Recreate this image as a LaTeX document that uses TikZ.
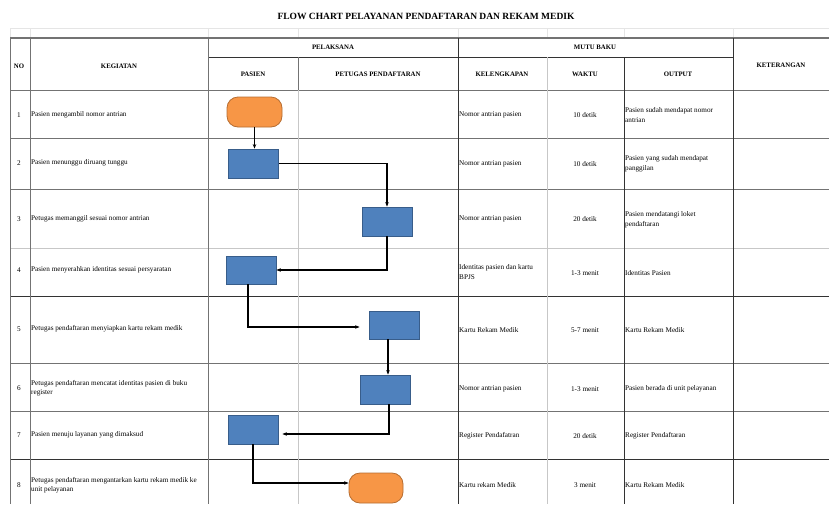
\documentclass[tikz,border=0pt]{standalone}
\usepackage{fontspec}
\setmainfont{Liberation Serif}
\usetikzlibrary{arrows.meta}
\definecolor{boxblue}{HTML}{4F81BD}
\definecolor{boxblueline}{HTML}{385D8A}
\definecolor{termorange}{HTML}{F79646}
\definecolor{termline}{HTML}{B66D31}
\tikzset{
 procbox/.style={draw=boxblueline, fill=boxblue, line width=0.8pt, minimum width=50pt, minimum height=29pt, inner sep=0pt},
 termbox/.style={draw=termline, fill=termorange, line width=0.8pt, rounded corners=11pt, minimum width=55pt, minimum height=30pt, inner sep=0pt},
 flow/.style={draw=black, line width=1.1pt, -{Stealth[length=4.5pt,width=3.5pt]}},
 gridmid/.style={draw=black!55, line width=0.8pt},
 gridlight/.style={draw=black!22, line width=0.8pt},
 griddark/.style={draw=black!80, line width=0.9pt},
 gridfaint/.style={draw=black!10, line width=0.6pt},
 body/.style={font=\fontsize{7.2}{9.5}\selectfont, inner sep=0pt, align=left},
 head/.style={font=\bfseries\fontsize{6.8}{8}\selectfont, inner sep=0pt},
}
\begin{document}
\begin{tikzpicture}[x=1pt,y=-1pt]
\useasboundingbox (0,0) rectangle (829,504);
\fill[white] (0,0) rectangle (829,504);

% faint spreadsheet grid above table
\draw[gridfaint] (10,28) -- (829,28);
\foreach \xx in {10,30,208,298,458,547,624,733}
  \draw[gridfaint] (\xx,28) -- (\xx,38);

% title
\node[font=\bfseries\fontsize{9.5}{11}\selectfont, inner sep=0pt] (title) at (426,16) {FLOW CHART PELAYANAN PENDAFTARAN DAN REKAM MEDIK};

% table lines
\draw[draw=black!55, line width=1.3pt] (10,38) -- (829,38);
\draw[griddark] (208,57) -- (733,57);
\draw[gridmid] (10,90) -- (829,90);
\draw[gridmid] (10,138) -- (829,138);
\draw[gridmid] (10,189) -- (829,189);
\draw[gridlight] (10,248) -- (829,248);
\draw[griddark] (10,296) -- (829,296);
\draw[gridmid] (10,363) -- (829,363);
\draw[gridmid] (10,411) -- (829,411);
\draw[griddark] (10,459) -- (829,459);

\draw[gridmid] (10,38) -- (10,504);
\draw[gridmid] (30,38) -- (30,504);
\draw[gridmid] (208,38) -- (208,504);
\draw[gridmid] (298,57) -- (298,90);
\draw[gridlight] (298,90) -- (298,504);
\draw[griddark] (458,38) -- (458,504);
\draw[gridlight] (547,57) -- (547,504);
\draw[griddark] (624,57) -- (624,504);
\draw[griddark] (733,38) -- (733,504);

% header texts
\node[head] (hno) at (19,66) {NO};
\node[head] (hkeg) at (119,66) {KEGIATAN};
\node[head] (hpel) at (333,47) {PELAKSANA};
\node[head] (hmutu) at (595,47) {MUTU BAKU};
\node[head] (hpas) at (253,74) {PASIEN};
\node[head] (hpet) at (378,74) {PETUGAS PENDAFTARAN};
\node[head] (hkel) at (502,74) {KELENGKAPAN};
\node[head] (hwak) at (585,74) {WAKTU};
\node[head] (hout) at (678,74) {OUTPUT};
\node[head] (hket) at (781,65) {KETERANGAN};

% row numbers
\node[body] (n1) at (19,115) {1};
\node[body] (n2) at (19,163) {2};
\node[body] (n3) at (19,219) {3};
\node[body] (n4) at (19,270) {4};
\node[body] (n5) at (19,329) {5};
\node[body] (n6) at (19,388) {6};
\node[body] (n7) at (19,435) {7};
\node[body] (n8) at (19,485) {8};

% kegiatan
\node[body, anchor=west] (k1) at (31,115) {Pasien mengambil nomor antrian};
\node[body, anchor=west] (k2) at (31,163) {Pasien menunggu diruang tunggu};
\node[body, anchor=west] (k3) at (31,219) {Petugas memanggil sesuai nomor antrian};
\node[body, anchor=west] (k4) at (31,270) {Pasien menyerahkan identitas sesuai persyaratan};
\node[body, anchor=west] (k5) at (31,329) {Petugas pendaftaran menyiapkan kartu rekam medik};
\node[body, anchor=west] (k6) at (31,388) {Petugas pendaftaran mencatat identitas pasien di buku\\register};
\node[body, anchor=west] (k7) at (31,435) {Pasien menuju layanan yang dimaksud};
\node[body, anchor=west] (k8) at (31,485) {Petugas pendaftaran mengantarkan kartu rekam medik ke\\unit pelayanan};

% kelengkapan
\node[body, anchor=west] (l1) at (459,115) {Nomor antrian pasien};
\node[body, anchor=west] (l2) at (459,164) {Nomor antrian pasien};
\node[body, anchor=west] (l3) at (459,219) {Nomor antrian pasien};
\node[body, anchor=west] (l4) at (459,272) {Identitas pasien dan kartu\\BPJS};
\node[body, anchor=west] (l5) at (459,330) {Kartu Rekam Medik};
\node[body, anchor=west] (l6) at (459,389) {Nomor antrian pasien};
\node[body, anchor=west] (l7) at (459,436) {Register Pendafatran};
\node[body, anchor=west] (l8) at (459,485) {Kartu rekam Medik};

% waktu
\node[body] (w1) at (585,115) {10 detik};
\node[body] (w2) at (585,164) {10 detik};
\node[body] (w3) at (585,219) {20 detik};
\node[body] (w4) at (585,273) {1-3 menit};
\node[body] (w5) at (585,330) {5-7 menit};
\node[body] (w6) at (585,389) {1-3 menit};
\node[body] (w7) at (585,436) {20 detik};
\node[body] (w8) at (585,485) {3 menit};

% output
\node[body, anchor=west] (o1) at (625,115) {Pasien sudah mendapat nomor\\antrian};
\node[body, anchor=west] (o2) at (625,164) {Pasien yang sudah mendapat\\panggilan};
\node[body, anchor=west] (o3) at (625,220) {Pasien mendatangi loket\\pendaftaran};
\node[body, anchor=west] (o4) at (625,273) {Identitas Pasien};
\node[body, anchor=west] (o5) at (625,330) {Kartu Rekam Medik};
\node[body, anchor=west] (o6) at (625,389) {Pasien berada di unit pelayanan};
\node[body, anchor=west] (o7) at (625,436) {Register Pendaftaran};
\node[body, anchor=west] (o8) at (625,485) {Kartu Rekam Medik};

% flow shapes
\node[termbox] (t1) at (254.5,112) {};
\node[procbox] (b2) at (253.5,163.5) {};
\node[procbox] (b3) at (387,221.5) {};
\node[procbox, minimum height=28pt] (b4) at (251,270) {};
\node[procbox, minimum height=28pt] (b5) at (394,325) {};
\node[procbox] (b6) at (385,389.5) {};
\node[procbox] (b7) at (253,429.5) {};
\node[termbox, minimum width=54pt] (t8) at (376,488) {};

% connectors
\draw[flow] (t1.south) -- (t1.south |- b2.north);
\draw[flow] (b2.east) -| (b3.north);
\draw[flow] (b3.south) |- (b4.east);
\draw[flow] ([xshift=-3pt]b4.south) |- ([xshift=-9pt,yshift=-2pt]b5.west);
\draw[flow] ([xshift=-6pt]b5.south) -- ([xshift=-6pt]b5.south |- b6.north);
\draw[flow] ([xshift=4pt]b6.south) |- ([xshift=4pt,yshift=-4.5pt]b7.east);
\draw[flow] (b7.south) |- ([yshift=5pt]t8.west);
\end{tikzpicture}
\end{document}
